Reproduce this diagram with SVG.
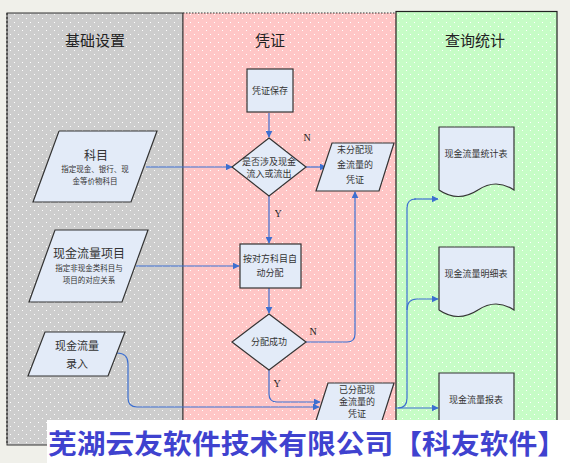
<svg xmlns="http://www.w3.org/2000/svg" width="570" height="463" viewBox="0 0 570 463">
<defs>
<pattern id="pg" width="8" height="8" patternUnits="userSpaceOnUse"><rect width="8" height="8" fill="#cdcdcd"/><rect x="2" y="2" width="1" height="1" fill="#fff"/><rect x="6" y="6" width="1" height="1" fill="#fff"/></pattern>
<pattern id="pp" width="8" height="8" patternUnits="userSpaceOnUse"><rect width="8" height="8" fill="#ffc6c6"/><rect x="2" y="2" width="1" height="1" fill="#fff"/><rect x="6" y="6" width="1" height="1" fill="#fff"/></pattern>
<pattern id="pgr" width="8" height="8" patternUnits="userSpaceOnUse"><rect width="8" height="8" fill="#c6fcc6"/><rect x="2" y="2" width="1" height="1" fill="#fff"/><rect x="6" y="6" width="1" height="1" fill="#fff"/></pattern>
<marker id="ar" viewBox="0 0 10 10" refX="9" refY="5" markerWidth="7" markerHeight="7" orient="auto" markerUnits="userSpaceOnUse"><path d="M0,0 L10,5 L0,10 z" fill="#3d6fd0"/></marker>
</defs>
<style>
.nd{fill:#e3ebf8;stroke:#333;stroke-width:1.2}
.t{font-family:"Liberation Serif","Noto Sans CJK SC",serif;fill:#333;text-anchor:middle}
.h{font-family:"Liberation Serif","Noto Sans CJK SC",serif;font-size:15px;fill:#222;text-anchor:middle}
.s{font-size:9px}
.xs{font-size:7.5px}
.m{font-size:12px}
.c{fill:none;stroke:#3d6fd0;stroke-width:1.2;marker-end:url(#ar)}
.cn{fill:none;stroke:#3d6fd0;stroke-width:1.2}
.lb{font-family:"Liberation Serif",serif;font-size:10px;fill:#222;text-anchor:middle}
</style>
<rect width="570" height="463" fill="#f0f0ea"/>
<g id="lanes">
<rect x="7" y="13" width="176" height="432" fill="url(#pg)" stroke="#333" stroke-width="1"/>
<line x1="7" y1="13" x2="7" y2="445" stroke="#333" stroke-width="1.2" stroke-dasharray="2,2"/>
<rect x="183" y="13" width="213" height="420" fill="url(#pp)"/>
<line x1="183" y1="13" x2="396" y2="13" stroke="#333" stroke-width="1.2" stroke-dasharray="1.5,1.5"/>
<line x1="183" y1="13" x2="183" y2="433" stroke="#333" stroke-width="1"/>
<rect x="396" y="11.5" width="161" height="421" fill="url(#pgr)" stroke="#222" stroke-width="1.2"/>
<text class="h" x="95" y="46">基础设置</text>
<text class="h" x="270" y="46">凭证</text>
<text class="h" x="475" y="46">查询统计</text>
</g>
<g id="connectors">
<path class="c" d="M269,113 V137"/>
<path class="c" d="M146,167 H232"/>
<path class="c" d="M306,167 H326"/>
<path class="c" d="M269,196 V243"/>
<path class="c" d="M136,266 H239"/>
<path class="c" d="M269,288 V313"/>
<path class="c" d="M306,342 H347 Q355,342 355,334 V192"/>
<path class="c" d="M269,370 V394 Q269,402 277,402 H320"/>
<path class="c" d="M117,353 Q128,353 128,364 V398 Q128,407 137,407 H319"/>
<path class="c" d="M395,408 H438"/>
<path class="cn" d="M398,408 Q407,408 407,398 V208 Q407,199 416,199"/>
<path class="c" d="M414,199 H438"/>
<path class="c" d="M407,310 Q407,299 417,299 H438"/>
<text class="lb" x="307" y="141">N</text>
<text class="lb" x="278" y="217">Y</text>
<text class="lb" x="313" y="335">N</text>
<text class="lb" x="277" y="387">Y</text>
</g>
<g id="n-kemu">
<path class="nd" d="M59,131 H157 L131,202 H33 Z"/>
<text class="t m" x="96" y="160">科目</text>
<text class="t xs" x="95" y="172">指定现金、银行、现</text>
<text class="t xs" x="95" y="184">金等价物科目</text>
</g>
<g id="n-xjllxm">
<path class="nd" d="M55,230 H148 L122,302 H29 Z"/>
<text class="t m" x="89" y="258">现金流量项目</text>
<text class="t xs" x="89" y="271">指定非现金类科目与</text>
<text class="t xs" x="89" y="283">项目的对应关系</text>
</g>
<g id="n-lr">
<path class="nd" d="M45,332 H125 L108,376 H28 Z"/>
<text class="t" style="font-size:11px" x="77" y="350">现金流量</text>
<text class="t" style="font-size:11px" x="77" y="368">录入</text>
</g>
<g id="n-bc">
<rect class="nd" x="247" y="69" width="46" height="43"/>
<text class="t s" x="270" y="94">凭证保存</text>
</g>
<g id="n-d1">
<path class="nd" d="M269,138 L306,167 L269,196 L232,167 Z"/>
<text class="t s" x="269" y="165">是否涉及现金</text>
<text class="t s" x="269" y="177">流入或流出</text>
</g>
<g id="n-wfp">
<path class="nd" d="M332,143 H394 L379,191 H316 Z"/>
<text class="t s" x="355" y="153">未分配现</text>
<text class="t s" x="355" y="168">金流量的</text>
<text class="t s" x="355" y="183">凭证</text>
</g>
<g id="n-fp">
<rect class="nd" x="240" y="244" width="61" height="44"/>
<text class="t s" x="270" y="262">按对方科目自</text>
<text class="t s" x="270" y="276">动分配</text>
</g>
<g id="n-d2">
<path class="nd" d="M269,314 L306,342 L269,370 L232,342 Z"/>
<text class="t s" x="269" y="345">分配成功</text>
</g>
<g id="n-yfp">
<path class="nd" d="M328,383 H394 L379,430 H313 Z"/>
<text class="t s" x="357" y="393">已分配现</text>
<text class="t s" x="357" y="405">金流量的</text>
<text class="t s" x="357" y="417">凭证</text>
</g>
<g id="n-tjb">
<path class="nd" d="M439,127 H514 V190 Q496,178 478,190 Q458,203 439,190 Z"/>
<text class="t s" x="476" y="157">现金流量统计表</text>
</g>
<g id="n-mxb">
<path class="nd" d="M439,247 H514 V310 Q496,298 478,310 Q458,323 439,310 Z"/>
<text class="t s" x="476" y="277">现金流量明细表</text>
</g>
<g id="n-bb">
<path class="nd" d="M439,373 H514 V440 H439 Z"/>
<text class="t s" x="476" y="403">现金流量报表</text>
</g>
<g id="banner">
<rect x="47" y="420" width="523" height="43" fill="#fff"/>
<text x="48" y="454" textLength="518" lengthAdjust="spacingAndGlyphs" style="font-family:'Noto Sans CJK SC',sans-serif;font-weight:bold;font-size:27px;fill:#3f42cf">芜湖云友软件技术有限公司【科友软件】</text>
</g>
</svg>
